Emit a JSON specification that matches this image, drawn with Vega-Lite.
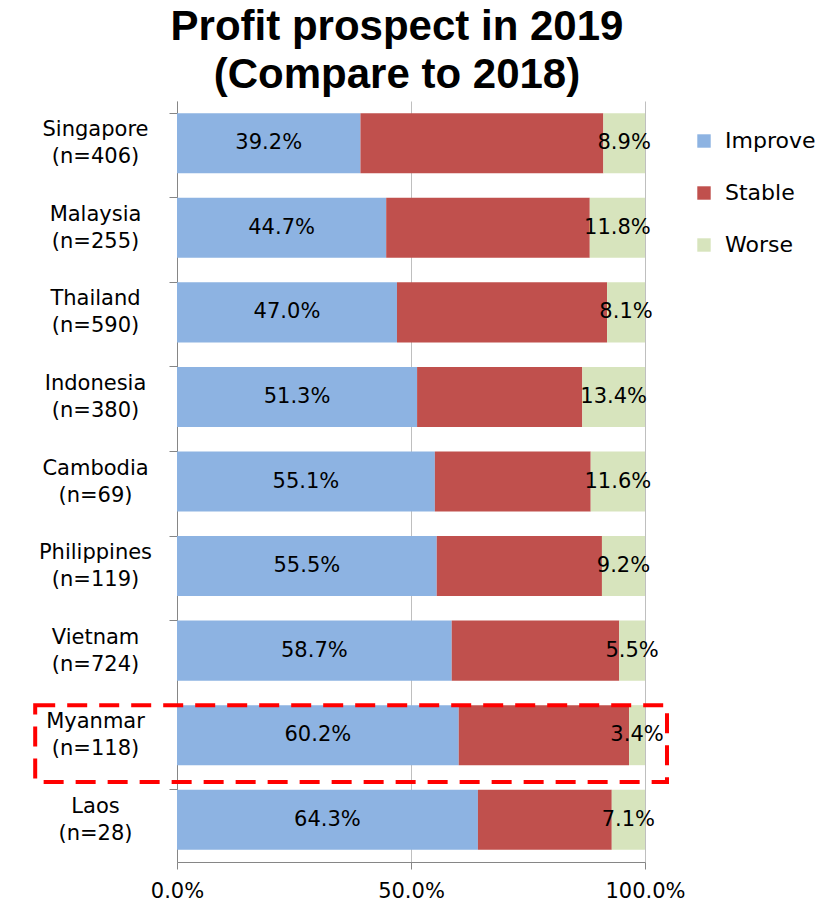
{
  "$schema": "https://vega.github.io/schema/vega-lite/v6.json",
  "width": 468,
  "height": 761,
  "padding": {"left": 33, "top": 6, "right": 5, "bottom": 5},
  "background": "white",
  "title": {
    "text": ["Profit prospect in 2019", "(Compare to 2018)"],
    "font": "Liberation Sans",
    "fontSize": 42,
    "fontWeight": "bold",
    "lineHeight": 48,
    "color": "#000000",
    "anchor": "middle",
    "dx": -14,
    "offset": 4
  },
  "config": {
    "view": {"stroke": null},
    "font": "DejaVu Sans"
  },
  "data": {
    "values": [
      {"country": "Singapore|(n=406)", "category": "Improve", "value": 0.392},
      {"country": "Singapore|(n=406)", "category": "Stable", "value": 0.519},
      {"country": "Singapore|(n=406)", "category": "Worse", "value": 0.089},
      {"country": "Malaysia|(n=255)", "category": "Improve", "value": 0.447},
      {"country": "Malaysia|(n=255)", "category": "Stable", "value": 0.435},
      {"country": "Malaysia|(n=255)", "category": "Worse", "value": 0.118},
      {"country": "Thailand|(n=590)", "category": "Improve", "value": 0.470},
      {"country": "Thailand|(n=590)", "category": "Stable", "value": 0.449},
      {"country": "Thailand|(n=590)", "category": "Worse", "value": 0.081},
      {"country": "Indonesia|(n=380)", "category": "Improve", "value": 0.513},
      {"country": "Indonesia|(n=380)", "category": "Stable", "value": 0.353},
      {"country": "Indonesia|(n=380)", "category": "Worse", "value": 0.134},
      {"country": "Cambodia|(n=69)", "category": "Improve", "value": 0.551},
      {"country": "Cambodia|(n=69)", "category": "Stable", "value": 0.333},
      {"country": "Cambodia|(n=69)", "category": "Worse", "value": 0.116},
      {"country": "Philippines|(n=119)", "category": "Improve", "value": 0.555},
      {"country": "Philippines|(n=119)", "category": "Stable", "value": 0.353},
      {"country": "Philippines|(n=119)", "category": "Worse", "value": 0.092},
      {"country": "Vietnam|(n=724)", "category": "Improve", "value": 0.587},
      {"country": "Vietnam|(n=724)", "category": "Stable", "value": 0.358},
      {"country": "Vietnam|(n=724)", "category": "Worse", "value": 0.055},
      {"country": "Myanmar|(n=118)", "category": "Improve", "value": 0.602},
      {"country": "Myanmar|(n=118)", "category": "Stable", "value": 0.364},
      {"country": "Myanmar|(n=118)", "category": "Worse", "value": 0.034},
      {"country": "Laos|(n=28)", "category": "Improve", "value": 0.643},
      {"country": "Laos|(n=28)", "category": "Stable", "value": 0.286},
      {"country": "Laos|(n=28)", "category": "Worse", "value": 0.071}
    ]
  },
  "encoding": {
    "y": {
      "field": "country",
      "type": "nominal",
      "title": null,
      "scale": {
        "domain": ["Singapore|(n=406)", "Malaysia|(n=255)", "Thailand|(n=590)", "Indonesia|(n=380)", "Cambodia|(n=69)", "Philippines|(n=119)", "Vietnam|(n=724)", "Myanmar|(n=118)", "Laos|(n=28)"],
        "paddingInner": 0.29,
        "paddingOuter": 0.145
      },
      "axis": {
        "labelExpr": "split(datum.label, '|')",
        "labelAlign": "center",
        "labelBaseline": "middle",
        "labelPadding": 74,
        "labelOffset": -13,
        "labelFontSize": 21,
        "labelLineHeight": 27,
        "labelColor": "#000000",
        "labelFont": "DejaVu Sans",
        "bandPosition": 0,
        "tickSize": 8,
        "tickColor": "#868686",
        "domainColor": "#868686",
        "grid": false
      }
    }
  },
  "layer": [
    {
      "mark": {"type": "bar"},
      "encoding": {
        "x": {
          "field": "value",
          "type": "quantitative",
          "stack": "zero",
          "title": null,
          "scale": {"domain": [0, 1], "nice": false},
          "axis": {
            "values": [0, 0.5, 1],
            "format": ".1%",
            "grid": true,
            "gridColor": "#BFBFBF",
            "domainColor": "#868686",
            "tickColor": "#868686",
            "tickSize": 7,
            "labelPadding": 11,
            "labelFontSize": 21,
            "labelColor": "#000000",
            "labelFont": "DejaVu Sans",
            "labelFlush": false
          }
        },
        "color": {
          "field": "category",
          "type": "nominal",
          "title": null,
          "scale": {
            "domain": ["Improve", "Stable", "Worse"],
            "range": ["#8DB3E2", "#C0504D", "#D7E4BD"]
          },
          "legend": {
            "orient": "none",
            "legendX": 516,
            "legendY": 29,
            "symbolType": "square",
            "symbolSize": 180,
            "symbolStrokeWidth": 0,
            "labelFontSize": 22,
            "labelFont": "DejaVu Sans",
            "labelColor": "#000000",
            "labelOffset": 10,
            "rowPadding": 30
          }
        },
        "order": {"field": "category", "sort": "ascending"}
      }
    },
    {
      "transform": [
        {"stack": "value", "groupby": ["country"], "sort": [{"field": "category", "order": "ascending"}], "as": ["v0", "v1"]},
        {"calculate": "(datum.v0 + datum.v1) / 2", "as": "mid"},
        {"filter": "datum.category != 'Stable'"}
      ],
      "mark": {"type": "text", "fontSize": 21, "font": "DejaVu Sans", "color": "#000000", "baseline": "middle", "align": "center"},
      "encoding": {
        "x": {"field": "mid", "type": "quantitative"},
        "text": {"field": "value", "type": "quantitative", "format": ".1%"}
      }
    },
    {
      "data": {"values": [{"country": "Myanmar|(n=118)"}]},
      "mark": {"type": "rect", "fill": null, "stroke": "#FF0000", "strokeWidth": 4, "strokeDash": [20, 12]},
      "encoding": {
        "y": {"field": "country", "type": "nominal", "bandPosition": 0},
        "y2": {"datum": "Myanmar|(n=118)", "bandPosition": 1.28},
        "x": {"datum": -0.303},
        "x2": {"datum": 1.047}
      }
    }
  ]
}
